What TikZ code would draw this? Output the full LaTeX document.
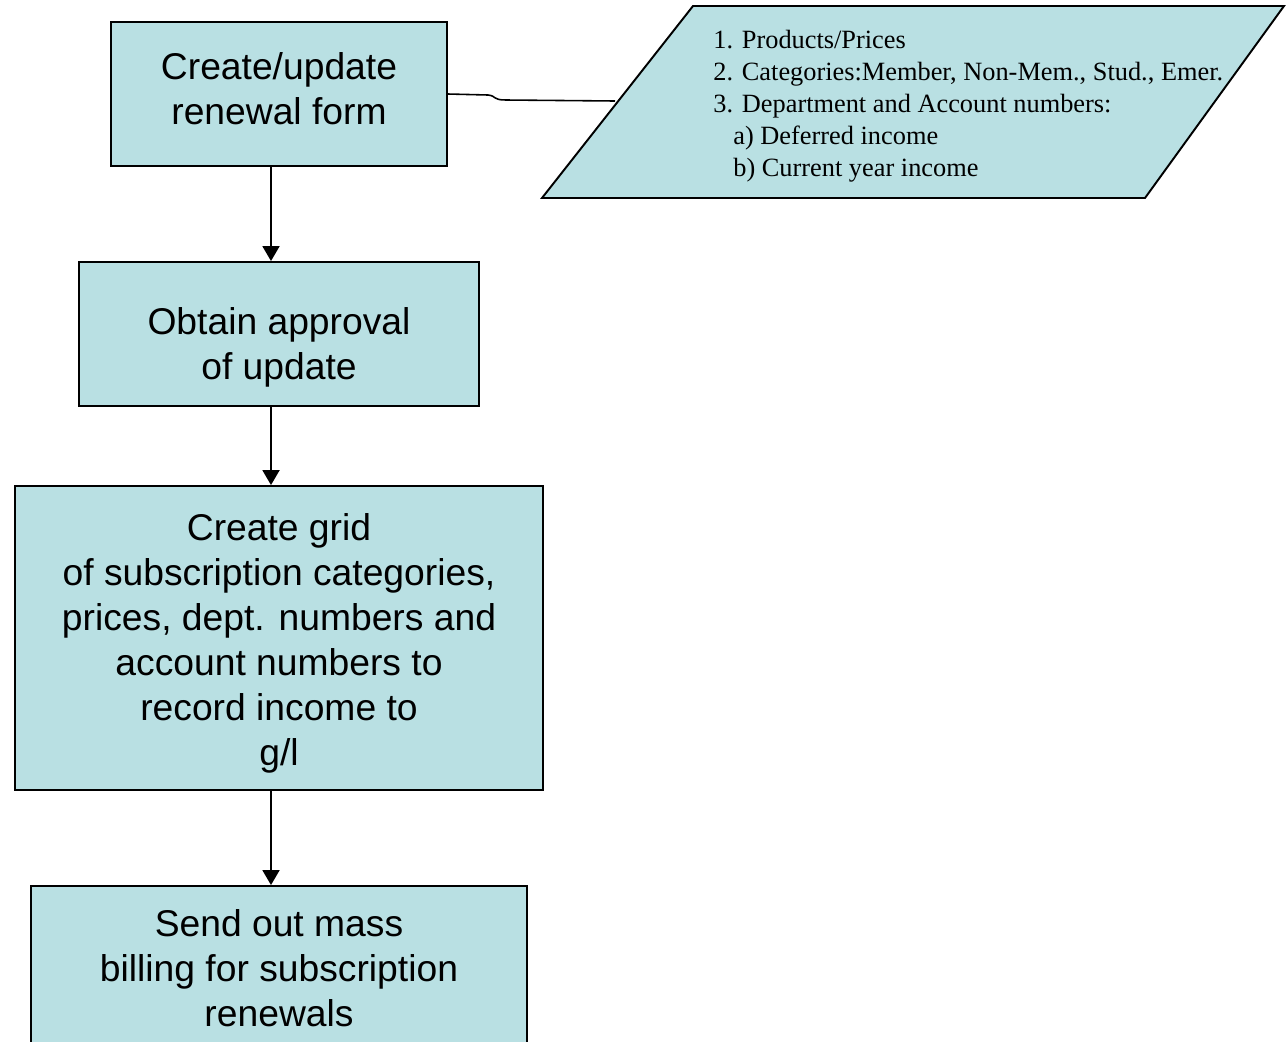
\documentclass[tikz,border=0pt]{standalone}
\usepackage{fontspec}
\setmainfont{Liberation Serif}
\newfontfamily\boxfont{Liberation Sans}
\usepackage{xcolor}
\usetikzlibrary{positioning,calc,arrows.meta}
\definecolor{boxfill}{RGB}{185,224,227}

\begin{document}
\begin{tikzpicture}[x=0.02cm, y=-0.02cm,
    stepbox/.style={rectangle, draw, fill=boxfill, line width=1.1pt, inner sep=0pt},
    boxtext/.style={align=center, inner sep=0pt, font=\boxfont\fontsize{21.2}{25.6}\selectfont},
    flow/.style={-{Triangle[length=0.3cm, width=0.34cm]}, line width=1.1pt}]
    \clip (0,0) rectangle (1286,1042);
    % process boxes
    \node [stepbox, minimum width=6.72cm, minimum height=2.88cm] (form) at (279,94) {};
    \node [boxtext] (formtext) at (279,89) {
        Create/update \\
        renewal form
    };
    \node [stepbox, minimum width=8cm, minimum height=2.88cm] (approval) at (279,334) {};
    \node [boxtext] (approvaltext) at (279,347) {
        Obtain approval \\
        of update
    };
    \node [stepbox, minimum width=10.56cm, minimum height=6.08cm] (grid) at (279,638) {};
    \node [boxtext] (gridtext) at (279,643) {
        Create grid \\
        of subscription categories, \\
        prices, dept. numbers and \\
        account numbers to \\
        record income to \\
        g/l
    };
    \node [stepbox, minimum width=9.92cm, minimum height=3.28cm] (billing) at (279,968) {};
    \node [boxtext] (billingtext) at (279,968) {
        Send out mass \\
        billing for subscription \\
        renewals
    };
    % data parallelogram
    \draw [fill=boxfill, line width=1.1pt] (693,6) -- (1284,6) -- (1145,198) -- (542,198) -- cycle;
    \coordinate (datain) at (615,101);
    \node [anchor=north west, align=left, inner sep=0pt, font=\fontsize{15}{18.2}\selectfont] (data) at (713,30) {
        1. Products/Prices \\
        2. Categories:Member, Non-Mem., Stud., Emer. \\
        3. Department and Account numbers: \\
        \hspace*{0.4cm}a) Deferred income \\
        \hspace*{0.4cm}b) Current year income
    };
    % connectors
    \draw [line width=0.9pt] (form.east) -- (488,95) .. controls (497,96) and (492,100) .. (506,100) -- (datain);
    \draw [flow] ([xshift=-0.16cm]form.south) -- ([xshift=-0.16cm]approval.north);
    \draw [flow] ([xshift=-0.16cm]approval.south) -- ([xshift=-0.16cm]grid.north);
    \draw [flow] ([xshift=-0.16cm]grid.south) -- ([xshift=-0.16cm]billing.north);
\end{tikzpicture}
\end{document}
